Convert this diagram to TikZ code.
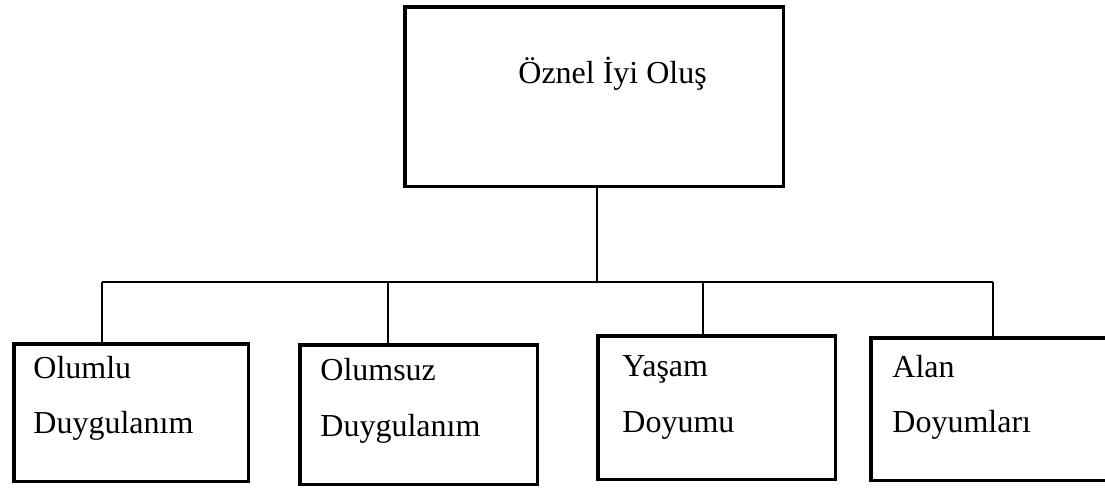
\documentclass[tikz,border=0pt]{standalone}
\usepackage{fontspec}
\setmainfont{Liberation Serif}
\begin{document}
\begin{tikzpicture}[x=0.5pt,y=-0.5pt]\tikzstyle{every node}=[inner sep=0pt]
\tikzstyle{box}=[rectangle,draw,line width=1.75pt]
\tikzstyle{lbl}=[anchor=base west,font=\fontsize{16}{20}\selectfont]
\useasboundingbox (0,0) rectangle (1105,489);
\clip (0,0) rectangle (1105,489);
\node[box,minimum width=189.25pt,minimum height=89.75pt] at (594,96.5) (oio) {};
\node[box,minimum width=117.25pt,minimum height=68.75pt] at (131,412.5) (od) {};
\node[box,minimum width=118.75pt,minimum height=69.75pt] at (418.5,414.5) (osd) {};
\node[box,minimum width=118.75pt,minimum height=71.75pt] at (716.5,407.5) (yd) {};
\node[box,minimum width=123.75pt,minimum height=71.25pt] at (994.5,409) (ad) {};
\node[lbl] at (518,83) (oiot) {Öznel İyi Oluş};
\node[lbl] at (33,378) (od1) {Olumlu};
\node[lbl] at (33,433) (od2) {Duygulanım};
\node[lbl] at (320,380) (osd1) {Olumsuz};
\node[lbl] at (320,436) (osd2) {Duygulanım};
\node[lbl] at (622,376) (yd1) {Yaşam};
\node[lbl] at (622,432) (yd2) {Doyumu};
\node[lbl] at (892,377) (ad1) {Alan};
\node[lbl] at (892,432) (ad2) {Doyumları};
\coordinate (orta) at (597,282);
\coordinate (sol) at (102,282);
\coordinate (sag) at (993,282);
\coordinate (k2) at (388,282);
\coordinate (k3) at (703,282);
\draw[line width=1pt] (oio.south -| orta) -- (orta)
      (sol) -- (sag)
      (sol) -- (sol |- od.north)
      (k2) -- (k2 |- osd.north)
      (k3) -- (k3 |- yd.north)
      (sag) -- (sag |- ad.north);
\end{tikzpicture}
\end{document}
